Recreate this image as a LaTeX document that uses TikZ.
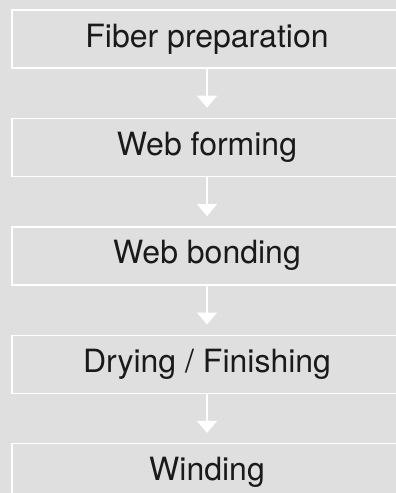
\documentclass[tikz,border=0pt]{standalone}
\usepackage{fontspec}
\setmainfont{TeX Gyre Heros}
\usepackage{tikz}
\usetikzlibrary{arrows.meta, positioning}
\definecolor{slide}{HTML}{DFDFDF}
\definecolor{ink}{HTML}{1A1A1A}

\begin{document}
\begin{tikzpicture}[x=1pt, y=-1pt,
      stage/.style={rectangle, draw=white, line width=1.4pt, minimum width=390pt, minimum height=58pt, font=\fontsize{32}{36}\selectfont, text=ink},
      flow/.style={-{Triangle[width=20pt, length=12pt]}, draw=white, line width=1.4pt, shorten >=10pt}
    ]
    \fill[slide] (0,0) rectangle (396,493);
    \useasboundingbox (0,0) rectangle (396,493);
    \clip (0,0) rectangle (396,493);
    \node[stage] (fiber) at (207,39) {Fiber preparation};
    \node[stage, below=49pt of fiber] (forming) {Web forming};
    \node[stage, below=49pt of forming] (bonding) {Web bonding};
    \node[stage, below=49pt of bonding] (drying) {Drying / Finishing};
    \node[stage, below=49pt of drying] (winding) {Winding};
    \draw[flow] (fiber) -- (forming);
    \draw[flow] (forming) -- (bonding);
    \draw[flow] (bonding) -- (drying);
    \draw[flow] (drying) -- (winding);
  \end{tikzpicture}
\end{document}
